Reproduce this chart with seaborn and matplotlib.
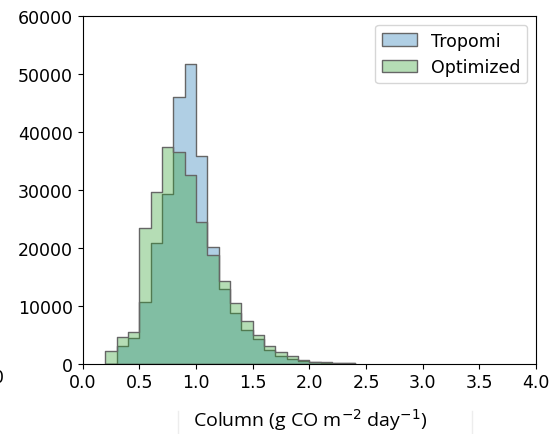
import numpy as np
import pandas as pd
import matplotlib
matplotlib.use("Agg")
import matplotlib.pyplot as plt
import seaborn as sns

# histogram counts, bins of 0.1 starting at 0.2
bin_edges = [round(0.2 + 0.1 * i, 2) for i in range(23)]
tropomi_counts = [0, 3000, 4400, 10600, 20800, 29300, 46000, 51700, 35800, 20200,
                  12900, 8800, 5800, 4200, 2300, 1300, 800, 450, 250, 150,
                  100, 60]
optimized_counts = [2100, 4500, 5400, 23400, 29600, 37300, 36500, 32600, 24500, 18800,
                    14300, 10400, 7300, 4900, 3100, 1950, 1250, 650, 300, 200,
                    120, 70]
centers = [(a + b) / 2 for a, b in zip(bin_edges[:-1], bin_edges[1:])]

df_t = pd.DataFrame({"x": centers, "w": tropomi_counts})
df_o = pd.DataFrame({"x": centers, "w": optimized_counts})

plt.rcParams['font.family'] = 'DejaVu Sans'

fig = plt.figure(figsize=(5.52, 4.35), dpi=100)
ax = fig.add_axes([0.150, 0.162, 0.821, 0.799])

sns.histplot(data=df_t, x="x", weights="w", bins=bin_edges, element="step",
             color="C0", alpha=0.35, edgecolor="0.4", linewidth=1,
             label="Tropomi", ax=ax)
sns.histplot(data=df_o, x="x", weights="w", bins=bin_edges, element="step",
             color="C2", alpha=0.35, edgecolor="0.4", linewidth=1,
             label="Optimized", ax=ax)

ax.set_xlim(0, 4.0)
ax.set_ylim(0, 60000)
ax.set_xticks(np.arange(0, 4.01, 0.5))
ax.set_yticks(np.arange(0, 60001, 10000))
for lab in ax.get_xticklabels() + ax.get_yticklabels():
    lab.set_fontsize(12.5)
ax.set_xlabel("")
ax.set_ylabel("")
ax.legend(loc="upper right", prop={"size": 12.5})

# label sits in a pasted strip below the axes
fig.text(310 / 552, 1 - 420 / 435, "Column (g CO m$^{-2}$ day$^{-1}$)",
         ha="center", va="center", fontsize=14, family="Open Sans")
fig.text(4 / 552, 1 - 378 / 435, "0", ha="right", va="center", fontsize=12.5)
for xp in (178, 472):
    fig.add_artist(plt.Line2D([xp / 552, xp / 552], [0, 1 - 412 / 435],
                              color="0.93", lw=1))

fig.savefig("out.png", dpi=100)
